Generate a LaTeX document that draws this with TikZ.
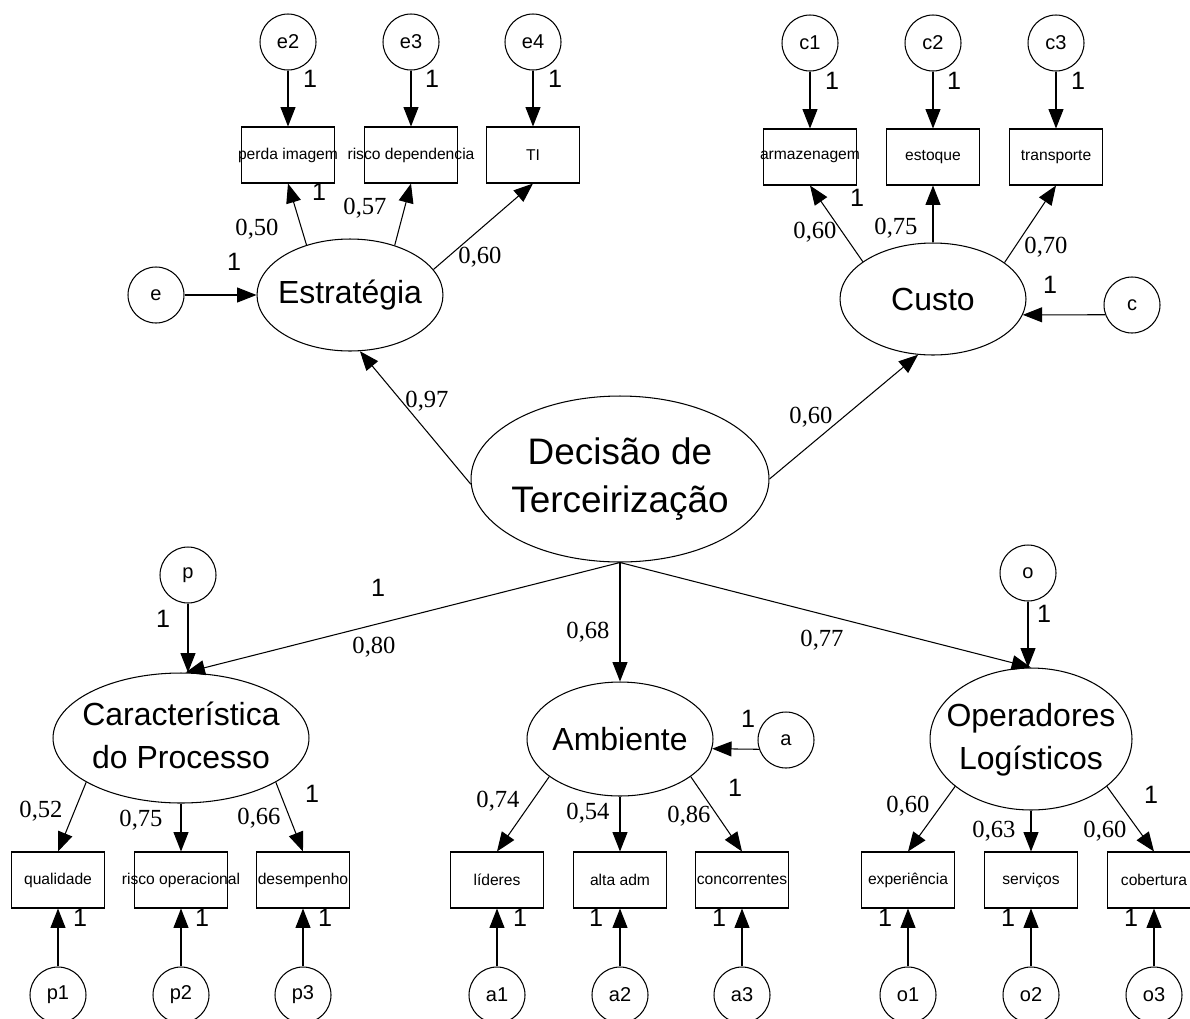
\documentclass[tikz,border=0pt]{standalone}
\usepackage{fontspec}
\setmainfont{Liberation Sans}
\newfontfamily\numfont{Liberation Serif}
\usetikzlibrary{shapes.geometric,arrows.meta}

\tikzset{
  lat/.style={draw, ellipse, inner sep=0pt, font=\fontsize{18.2}{24.5}\selectfont},
  ind/.style={draw, rectangle, minimum width=1.86cm, minimum height=1.12cm, inner sep=0pt,
              font=\fontsize{8.9}{10}\selectfont},
  err/.style={draw, circle, minimum size=1.12cm, inner sep=0pt, font=\fontsize{11.4}{13}\selectfont},
  arr/.style={-{Triangle[length=11pt,width=8.5pt]}},
  one/.style={font=\fontsize{14.3}{16}\selectfont, inner sep=0pt},
  coef/.style={font=\numfont\fontsize{14}{16}\selectfont, inner sep=0pt},
}
\newcommand{\ctext}[1]{\makebox[0pt]{#1}}
\newcommand{\twolines}[2]{\makebox[0pt]{\begin{tabular}{@{}c@{}}#1\\#2\end{tabular}}}

\begin{document}
\begin{tikzpicture}[x=0.02cm, y=-0.02cm, line width=0.6pt]
\clip (0,0) rectangle (1190,1018);

% latent variables
\node[lat, minimum width=5.96cm, minimum height=3.32cm, font=\fontsize{21}{27.5}\selectfont]
  (dec) at (620,479) {\twolines{Decisão de}{Terceirização}};
\node[lat, minimum width=3.72cm, minimum height=2.24cm] (est) at (350,295) {\ctext{Estratégia}};
\node[lat, minimum width=3.72cm, minimum height=2.24cm] (cus) at (933,299) {\ctext{Custo}};
\node[lat, minimum width=5.12cm, minimum height=2.6cm] (car) at (181,738) {\twolines{Característica}{do Processo}};
\node[lat, minimum width=3.72cm, minimum height=2.28cm] (amb) at (620,739) {\ctext{Ambiente}};
\node[lat, minimum width=4.04cm, minimum height=2.84cm] (op) at (1031,739) {\twolines{Operadores}{Logísticos}};

% indicators
\node[ind] (b1) at (288,155) {\ctext{perda imagem}};
\node[ind] (b2) at (411,155) {\ctext{risco dependencia}};
\node[ind] (b3) at (533,155) {\ctext{TI}};
\node[ind] (arm) at (810,157) {\ctext{armazenagem}};
\node[ind] (sto) at (933,157) {\ctext{estoque}};
\node[ind] (tra) at (1056,157) {\ctext{transporte}};
\node[ind] (qua) at (58,880) {\ctext{qualidade}};
\node[ind] (rop) at (181,880) {\ctext{risco operacional}};
\node[ind] (des) at (303,880) {\ctext{desempenho}};
\node[ind] (lid) at (497,880) {\ctext{líderes}};
\node[ind] (alt) at (620,880) {\ctext{alta adm}};
\node[ind] (con) at (742,880) {\ctext{concorrentes}};
\node[ind] (exp) at (908,880) {\ctext{experiência}};
\node[ind] (ser) at (1031,880) {\ctext{serviços}};
\node[ind] (cob) at (1154,880) {\ctext{cobertura}};

% error terms
\node[err] (e2) at (288,42) {e2};
\node[err] (e3) at (411,42) {e3};
\node[err] (e4) at (533,42) {e4};
\node[err] (c1) at (810,43) {c1};
\node[err] (c2) at (933,43) {c2};
\node[err] (c3) at (1056,43) {c3};
\node[err] (e) at (156,295) {e};
\node[err] (c) at (1132,305) {c};
\node[err] (p) at (188,575) {p};
\node[err] (a) at (786,740) {a};
\node[err] (o) at (1028,573) {o};
\node[err] (p1) at (58,995) {p1};
\node[err] (p2) at (181,995) {p2};
\node[err] (p3) at (303,995) {p3};
\node[err] (a1) at (497,995) {a1};
\node[err] (a2) at (620,995) {a2};
\node[err] (a3) at (742,995) {a3};
\node[err] (o1) at (908,995) {o1};
\node[err] (o2) at (1031,995) {o2};
\node[err] (o3) at (1154,995) {o3};

% structural paths
\draw[arr] (dec.182) -- (est.-80);
\draw[arr] (dec.east) -- (cus.-105);
\draw[arr] (dec.south) -- (car.86);
\draw[arr] (dec.south) -- (amb.north);
\draw[arr] (dec.south) -- (op.north);

% disturbances
\draw[arr] (e) -- (est);
\draw[arr] (c.200) -- (cus.-10);
\draw[arr] (p.south) -- (p.south |- car.north);
\draw[arr] (a.199) -- (amb.-6);
\draw[arr] (o.south) -- (o.south |- op.north);

% measurement paths
\draw[arr] (est.131) -- (b1.south);
\draw[arr] (est.48) -- (b2.south);
\draw[arr] (est.17) -- (b3.south);
\draw[arr] (cus.152) -- (arm.south);
\draw[arr] (cus) -- (sto);
\draw[arr] (cus.27) -- (tra.south);
\draw[arr] (car.205) -- (qua.north);
\draw[arr] (car.south) -- (rop.north);
\draw[arr] (car.-25) -- (des.north);
\draw[arr] (amb.208) -- (lid.north);
\draw[arr] (amb) -- (alt);
\draw[arr] (amb.-28) -- (con.north);
\draw[arr] (op.212) -- (exp.north);
\draw[arr] (op) -- (ser);
\draw[arr] (op.-32) -- (cob.north);

% measurement errors
\draw[arr] (e2) -- (b1);
\draw[arr] (e3) -- (b2);
\draw[arr] (e4) -- (b3);
\draw[arr] (c1) -- (arm);
\draw[arr] (c2) -- (sto);
\draw[arr] (c3) -- (tra);
\draw[arr] (p1) -- (qua);
\draw[arr] (p2) -- (rop);
\draw[arr] (p3) -- (des);
\draw[arr] (a1) -- (lid);
\draw[arr] (a2) -- (alt);
\draw[arr] (a3) -- (con);
\draw[arr] (o1) -- (exp);
\draw[arr] (o2) -- (ser);
\draw[arr] (o3) -- (cob);

% standardized loadings
\node[coef] (k1) at (257,229) {0,50};
\node[coef] (k2) at (365,208) {0,57};
\node[coef] (k3) at (480,257) {0,60};
\node[coef] (k4) at (427,401) {0,97};
\node[coef] (k5) at (811,417) {0,60};
\node[coef] (k6) at (815,232) {0,60};
\node[coef] (k7) at (896,228) {0,75};
\node[coef] (k8) at (1046,247) {0,70};
\node[coef] (k9) at (374,647) {0,80};
\node[coef] (k10) at (588,632) {0,68};
\node[coef] (k11) at (822,640) {0,77};
\node[coef] (k12) at (41,811) {0,52};
\node[coef] (k13) at (141,820) {0,75};
\node[coef] (k14) at (259,818) {0,66};
\node[coef] (k15) at (498,801) {0,74};
\node[coef] (k16) at (588,813) {0,54};
\node[coef] (k17) at (689,816) {0,86};
\node[coef] (k18) at (908,806) {0,60};
\node[coef] (k19) at (994,831) {0,63};
\node[coef] (k20) at (1105,831) {0,60};

% fixed parameters
\node[one] (f1) at (310,79) {1};
\node[one] (f2) at (432,79) {1};
\node[one] (f3) at (555,79) {1};
\node[one] (f4) at (319,192) {1};
\node[one] (f5) at (234,262) {1};
\node[one] (f6) at (832,81) {1};
\node[one] (f7) at (954,81) {1};
\node[one] (f8) at (1078,81) {1};
\node[one] (f9) at (857,198) {1};
\node[one] (f10) at (1050,285) {1};
\node[one] (f11) at (378,588) {1};
\node[one] (f12) at (163,619) {1};
\node[one] (f13) at (312,794) {1};
\node[one] (f14) at (80,918) {1};
\node[one] (f15) at (202,918) {1};
\node[one] (f16) at (325,918) {1};
\node[one] (f17) at (748,719) {1};
\node[one] (f18) at (735,788) {1};
\node[one] (f19) at (520,918) {1};
\node[one] (f20) at (596,918) {1};
\node[one] (f21) at (719,918) {1};
\node[one] (f22) at (1044,614) {1};
\node[one] (f23) at (1151,795) {1};
\node[one] (f24) at (885,918) {1};
\node[one] (f25) at (1008,918) {1};
\node[one] (f26) at (1131,918) {1};
\end{tikzpicture}
\end{document}
